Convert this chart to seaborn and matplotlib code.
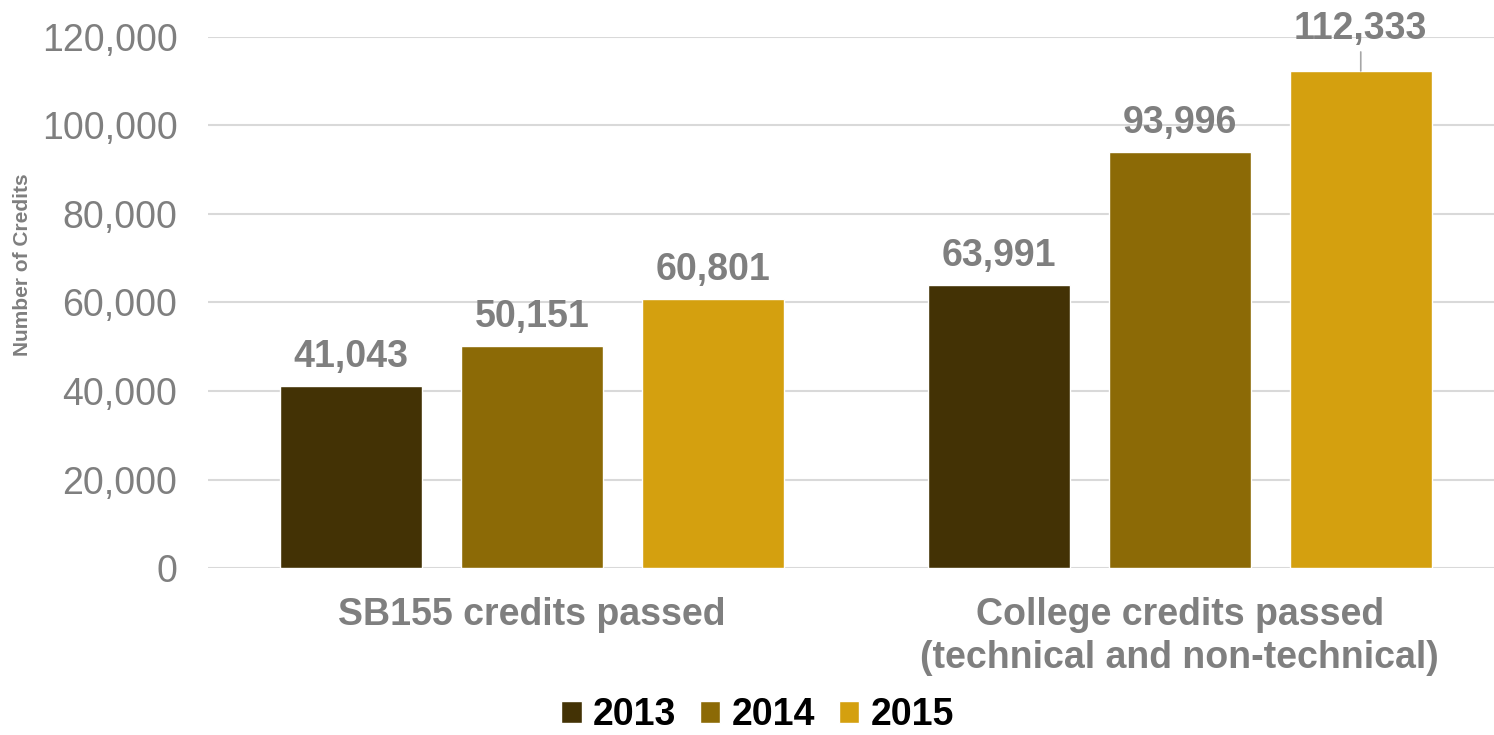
import matplotlib
matplotlib.use("Agg")
import matplotlib.pyplot as plt
import seaborn as sns
import pandas as pd
from matplotlib.ticker import FuncFormatter

categories = ["SB155 credits passed",
              "College credits passed\n(technical and non-technical)"]
years = ["2013", "2014", "2015"]
credits_2013 = [41043, 63991]
credits_2014 = [50151, 93996]
credits_2015 = [60801, 112333]

palette = {"2013": "#433205", "2014": "#8C6A06", "2015": "#D4A00F"}
GRAY = "#7F7F7F"

rows = []
for yr, vals in zip(years, [credits_2013, credits_2014, credits_2015]):
    for cat, v in zip(categories, vals):
        rows.append({"category": cat, "year": yr, "credits": v})
df = pd.DataFrame(rows)

sns.set_theme(style="white")
plt.rcParams["font.family"] = ["Liberation Sans", "DejaVu Sans"]

fig = plt.figure(figsize=(14.94, 7.35), dpi=100)
ax = fig.add_axes([0.1392, 0.2272, 0.8608, 0.7225])

sns.barplot(data=df, x="category", y="credits", hue="year", order=categories,
            hue_order=years, palette=palette, width=0.838, gap=0.215,
            saturation=1, ax=ax, errorbar=None)

ax.set_ylim(0, 120000)
ax.set_xlim(-0.5, 1.485)
ax.set_yticks(range(0, 120001, 20000))
ax.yaxis.set_major_formatter(FuncFormatter(lambda v, p: f"{int(v):,}"))
ax.grid(axis="y", color="#D9D9D9", linewidth=1.5)
ax.set_axisbelow(True)
for s in ax.spines.values():
    s.set_visible(False)

ax.tick_params(axis="y", length=0, pad=22, labelsize=27, labelcolor=GRAY)
ax.tick_params(axis="x", length=0, pad=21, labelsize=27, labelcolor=GRAY)
for lbl in ax.get_xticklabels():
    lbl.set_fontweight("bold")
    lbl.set_linespacing(1.25)

ax.set_xlabel("")
ax.set_ylabel("Number of Credits", fontsize=15, fontweight="bold", color=GRAY)
ax.yaxis.set_label_coords(-0.137, 0.572)

# data labels
for container in ax.containers:
    for bar in container:
        h = bar.get_height()
        cx = bar.get_x() + bar.get_width() / 2
        if h > 110000:
            ax.annotate(f"{int(h):,}", (cx, h), xytext=(0, 17),
                        textcoords="offset points", ha="center", va="bottom",
                        fontsize=27, fontweight="bold", color=GRAY,
                        annotation_clip=False,
                        arrowprops=dict(arrowstyle="-", color="#A6A6A6",
                                        lw=1.2, shrinkA=1, shrinkB=0))
        else:
            ax.annotate(f"{int(h):,}", (cx, h), xytext=(0, 8),
                        textcoords="offset points", ha="center", va="bottom",
                        fontsize=27, fontweight="bold", color=GRAY)

handles, labels = ax.get_legend_handles_labels()
ax.legend_.remove()
leg = fig.legend(handles, labels, loc="center", bbox_to_anchor=(0.507, 0.027),
                 ncol=3, frameon=False, handlelength=0.55, handleheight=0.55,
                 handletextpad=0.3, columnspacing=0.63, borderpad=0.2,
                 prop={"size": 27, "weight": "bold"})
for t in leg.get_texts():
    t.set_color("black")

fig.savefig("out.png", dpi=100)
